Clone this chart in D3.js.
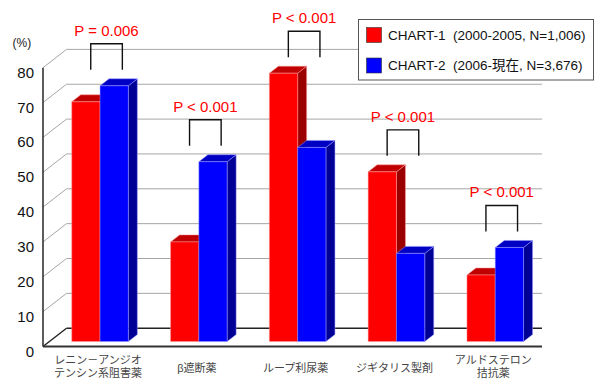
<!DOCTYPE html>
<html>
<head>
<meta charset="utf-8">
<script src="https://cdn.jsdelivr.net/npm/d3@7"></script>
<style>
  body { margin: 0; background: #fff; }
  svg { display: block; }
  text { white-space: pre; }
</style>
</head>
<body>
<svg id="chart" width="595" height="379"></svg>
<script>
// Prescription rates by drug class, two registry periods
const categories = ["レニン－アンジオ\nテンシン系阻害薬", "β遮断薬", "ループ利尿薬", "ジギタリス製剤", "アルドステロン\n拮抗薬"];
const seriesNames = ["CHART-1  (2000-2005, N=1,006)", "CHART-2  (2006-現在, N=3,676)"];
const chart1Values = [68.8, 28.6, 77.0, 48.7, 19.1];
const chart2Values = [73.4, 51.6, 55.7, 25.3, 27.0];
const pLabels = ["P = 0.006", "P < 0.001", "P < 0.001", "P < 0.001", "P < 0.001"];
const yTicks = [0, 10, 20, 30, 40, 50, 60, 70, 80];

const seriesColors = [
  { front: "#ff0000", top: "#c00000", side: "#9a0000", edge: "#ff9999" },
  { front: "#0000ff", top: "#0000c4", side: "#000096", edge: "#9999ff" }
];

const latin = "'Liberation Sans', Arial, sans-serif";
const cjk = "'Liberation Sans', 'Noto Sans CJK JP', sans-serif";

const svg = d3.select("#chart");

// 3-D frame geometry: value axis on the front plane, floor depth as a projected offset
const floorLeft = 43, floorRight = 542;
const depthVec = { dx: 23.5, dy: -18.3 };
const barFrontDepth = 0.27, barBackDepth = 0.653;

const y = d3.scaleLinear().domain([0, 80]).range([346.5, 67.7]);
const x = d3.scaleBand().domain(d3.range(categories.length)).range([44.3, 538.3]);
const xs = d3.scaleBand().domain([0, 1]).range([0, x.bandwidth()]).paddingOuter(0.746);

const proj = (xf, v, d) => [xf + d * depthVec.dx, y(v) + d * depthVec.dy];
const poly = pts => "M" + pts.map(p => p.join(",")).join("L") + "Z";

// Left wall lines
const walls = svg.append("g");
walls.selectAll("line.side").data(yTicks).join("line")
  .attr("x1", t => proj(floorLeft, t, 0)[0]).attr("y1", t => proj(floorLeft, t, 0)[1])
  .attr("x2", t => proj(floorLeft, t, 1)[0]).attr("y2", t => proj(floorLeft, t, 1)[1])
  .attr("stroke", t => t === 0 ? "#222" : "#a6a6a6")
  .attr("stroke-width", t => t === 0 ? 1.4 : 1);

// Back wall gridlines
walls.selectAll("line.grid").data(yTicks).join("line")
  .attr("x1", t => proj(floorLeft, t, 1)[0]).attr("y1", t => proj(floorLeft, t, 1)[1])
  .attr("x2", floorRight).attr("y2", t => proj(floorLeft, t, 1)[1])
  .attr("stroke", t => t === 0 ? "#222" : "#a6a6a6")
  .attr("stroke-width", t => t === 0 ? 1.4 : 1);

// Front floor edge and value axis
walls.append("line")
  .attr("x1", floorLeft).attr("y1", y(0)).attr("x2", floorRight).attr("y2", y(0))
  .attr("stroke", "#333").attr("stroke-width", 2);
walls.append("line")
  .attr("x1", floorLeft).attr("y1", y(80)).attr("x2", floorLeft).attr("y2", y(0))
  .attr("stroke", "#333").attr("stroke-width", 1.6);

// Value tick labels
svg.append("g").selectAll("text").data(yTicks).join("text")
  .attr("x", 34).attr("y", t => y(t) + 10)
  .attr("text-anchor", "end")
  .attr("font-family", latin).attr("font-size", 15).attr("fill", "#111")
  .text(t => t);

svg.append("text")
  .attr("x", 12.5).attr("y", 47)
  .attr("font-family", latin).attr("font-size", 12).attr("fill", "#222")
  .text("(%)");

// Bars
const rows = categories.map((c, i) => ({ i, vals: [chart1Values[i], chart2Values[i]] }));
const bars = svg.append("g");
rows.forEach(r => {
  r.vals.forEach((v, s) => {
    const xl = x(r.i) + xs(s), xr = xl + xs.bandwidth();
    const col = seriesColors[s];
    const g = bars.append("g").attr("stroke", col.edge).attr("stroke-width", 0.5).attr("stroke-linejoin", "round");
    g.append("path").attr("fill", col.side)
      .attr("d", poly([proj(xr, 0, barFrontDepth), proj(xr, 0, barBackDepth), proj(xr, v, barBackDepth), proj(xr, v, barFrontDepth)]));
    g.append("path").attr("fill", col.top)
      .attr("d", poly([proj(xl, v, barFrontDepth), proj(xr, v, barFrontDepth), proj(xr, v, barBackDepth), proj(xl, v, barBackDepth)]));
    g.append("path").attr("fill", col.front)
      .attr("d", poly([proj(xl, 0, barFrontDepth), proj(xr, 0, barFrontDepth), proj(xr, v, barFrontDepth), proj(xl, v, barFrontDepth)]));
  });
});

// Significance brackets, placed above the taller bar of each pair
const ann = svg.append("g");
rows.forEach(r => {
  const cx = x(r.i) + x.bandwidth() / 2 + barFrontDepth * depthVec.dx + 6.5;
  const legBottom = proj(0, d3.max(r.vals), barBackDepth)[1] - 9;
  const legTop = legBottom - 26;
  ann.append("path")
    .attr("d", `M${cx - 15.8},${legBottom}V${legTop}H${cx + 15.8}V${legBottom}`)
    .attr("fill", "none").attr("stroke", "#111").attr("stroke-width", 1.4);
  ann.append("text")
    .attr("x", cx).attr("y", legTop - 8)
    .attr("text-anchor", "middle")
    .attr("font-family", latin).attr("font-size", 15).attr("fill", "#ff0000")
    .text(pLabels[r.i]);
});

// Category labels
const catG = svg.append("g");
categories.forEach((c, i) => {
  const lines = c.split("\n");
  const cx = x(i) + x.bandwidth() / 2 + barFrontDepth * depthVec.dx - 2;
  const base = lines.length === 1 ? 371.5 : 363.5;
  lines.forEach((ln, k) => {
    catG.append("text")
      .attr("x", cx).attr("y", base + k * 13.5)
      .attr("text-anchor", "middle")
      .attr("font-family", cjk).attr("font-size", 11).attr("fill", "#444")
      .text(ln);
  });
});

// Legend
const leg = svg.append("g");
leg.append("rect").attr("x", 358.5).attr("y", 19.5).attr("width", 235).attr("height", 60.5)
  .attr("fill", "#fff").attr("stroke", "#555").attr("stroke-width", 1);
seriesNames.forEach((name, s) => {
  leg.append("rect").attr("x", 366.5).attr("y", 27.5 + s * 30.5).attr("width", 15).attr("height", 15)
    .attr("fill", seriesColors[s].front).attr("stroke", "#333").attr("stroke-width", 0.6);
  leg.append("text").attr("x", 388).attr("y", 39.7 + s * 30.5)
    .attr("font-family", cjk).attr("font-size", 13.5).attr("fill", "#111")
    .text(name);
});
</script>
</body>
</html>
